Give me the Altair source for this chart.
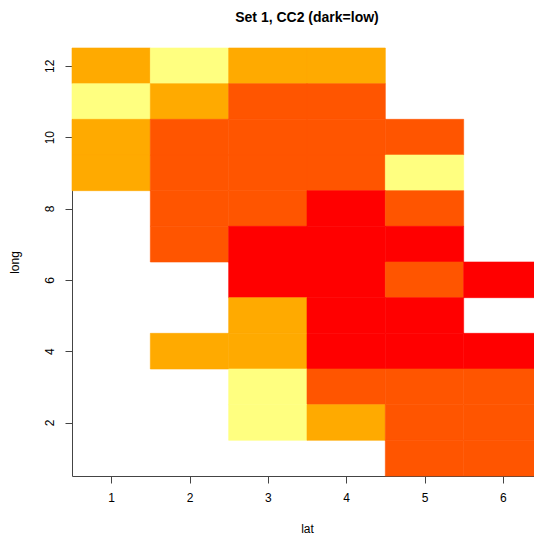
import altair as alt
import pandas as pd

lat_values = [1, 2, 3, 4, 5, 6]
long_values = list(range(1, 13))
# CC2 level per cell (rows: long 12 down to 1, columns: lat 1..6); 0 = no data
# 1 = lowest (red) ... 4 = highest (pale yellow)
grid = {
    12: [3, 4, 3, 3, 0, 0],
    11: [4, 3, 2, 2, 0, 0],
    10: [3, 2, 2, 2, 2, 0],
    9:  [3, 2, 2, 2, 4, 0],
    8:  [0, 2, 2, 1, 2, 0],
    7:  [0, 2, 1, 1, 1, 0],
    6:  [0, 0, 1, 1, 2, 1],
    5:  [0, 0, 3, 1, 1, 0],
    4:  [0, 3, 3, 1, 1, 1],
    3:  [0, 0, 4, 2, 2, 2],
    2:  [0, 0, 4, 3, 2, 2],
    1:  [0, 0, 0, 0, 2, 2],
}
levels = ["1", "2", "3", "4"]
level_colors = ["#FF0000", "#FF5500", "#FFAA00", "#FFFF80"]
x_ticks = [1, 2, 3, 4, 5, 6]
y_ticks = [2, 4, 6, 8, 10, 12]

rows = []
for lg, vals in grid.items():
    for la, v in zip(lat_values, vals):
        if v > 0:
            rows.append({"lat": la, "long": lg, "lat_lo": la - 0.5, "lat_hi": la + 0.5,
                         "long_lo": lg - 0.5, "long_hi": lg + 0.5, "level": str(v)})
df = pd.DataFrame(rows)

font = "Liberation Sans"
color_scale = alt.Scale(domain=levels, range=level_colors)

chart = alt.Chart(df).mark_rect(strokeWidth=0.6).encode(
    x=alt.X("lat_lo:Q", scale=alt.Scale(domain=[0.5, 6.5], nice=False, zero=False),
            axis=alt.Axis(title="lat", values=x_ticks, grid=False, tickSize=7,
                          labelPadding=9, titlePadding=20, format="d")),
    x2="lat_hi:Q",
    y=alt.Y("long_lo:Q", scale=alt.Scale(domain=[0.5, 12.5], nice=False, zero=False),
            axis=alt.Axis(title="long", values=y_ticks, grid=False, tickSize=7,
                          labelAngle=270, labelAlign="center", labelBaseline="bottom",
                          labelPadding=9, titlePadding=22, format="d")),
    y2="long_hi:Q",
    color=alt.Color("level:N", scale=color_scale, legend=None),
    stroke=alt.Stroke("level:N", scale=color_scale, legend=None),
).properties(
    width=470, height=428,
    title=alt.TitleParams("Set 1, CC2 (dark=low)", fontSize=14, fontWeight="bold",
                          font=font, color="#000", offset=23, anchor="middle"),
    autosize=alt.AutoSizeParams(type="none"),
    padding={"left": 64, "top": 40, "right": -8, "bottom": 60},
).configure_view(stroke=None).configure_axis(
    labelFont=font, titleFont=font, labelFontSize=12, titleFontSize=12,
    labelColor="#000", titleColor="#000", titleFontWeight="normal",
    domainColor="#444", tickColor="#444", domainWidth=1, tickWidth=1,
)

chart.save("out.html", embed_options={"renderer": "svg", "actions": False})
